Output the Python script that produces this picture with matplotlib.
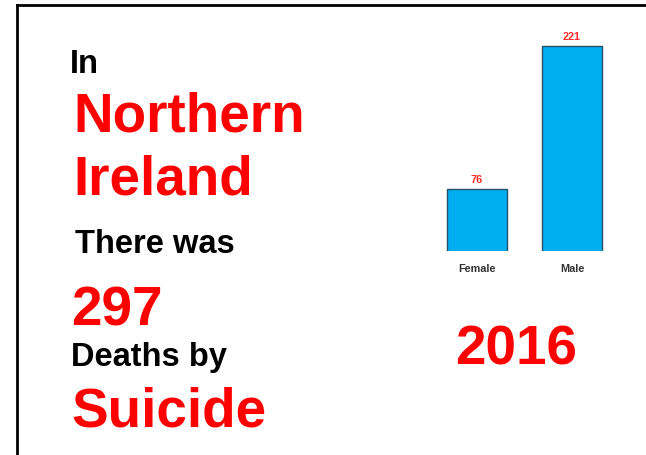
import matplotlib
matplotlib.use('Agg')
import matplotlib.pyplot as plt
from matplotlib.lines import Line2D

plt.rcParams['font.family'] = ['Liberation Sans', 'DejaVu Sans']

genders = ['Female', 'Male']
deaths = [76, 221]
total = 297
year = '2016'
place = ['Northern', 'Ireland']

W, H = 646, 456
fig = plt.figure(figsize=(W / 100, H / 100), dpi=100)
fig.patch.set_facecolor('white')

def fx(px):
    return px / W

def fy(py):
    return 1 - py / H

# frame (only top and left edge show)
fig.add_artist(Line2D([fx(17), 1.0], [fy(6), fy(6)], color='black', lw=2))
fig.add_artist(Line2D([fx(17), fx(17)], [fy(6), 0.0], color='black', lw=2))

red = '#ff0000'
big = 39.5
small = 23.5
fig.text(fx(70), fy(73), 'In', fontsize=small, fontweight='bold', color='black')
fig.text(fx(73), fy(132), place[0], fontsize=big, fontweight='bold', color=red)
fig.text(fx(73), fy(195), place[1], fontsize=big, fontweight='bold', color=red)
fig.text(fx(75), fy(253), 'There was', fontsize=small, fontweight='bold', color='black')
fig.text(fx(71), fy(325), str(total), fontsize=big, fontweight='bold', color=red)
fig.text(fx(71), fy(366), 'Deaths by', fontsize=small, fontweight='bold', color='black')
fig.text(fx(71), fy(427), 'Suicide', fontsize=big, fontweight='bold', color=red)
fig.text(fx(455), fy(365), year, fontsize=big, fontweight='bold', color=red)

# small bar chart
ax = fig.add_axes([fx(430), fy(252), fx(190), (252 - 30) / H])
x = list(range(len(genders)))
bars = ax.bar(x, deaths, width=0.63, bottom=0, color='#00aeef',
              edgecolor='#24506a', linewidth=1)
ax.set_xlim(-0.495, 1.505)
ax.set_ylim(13, 238.2)
for b, v in zip(bars, deaths):
    ax.annotate(str(v), (b.get_x() + b.get_width() / 2, v), xytext=(0, 3.5),
                textcoords='offset points', ha='center', va='bottom',
                fontsize=7.8, fontweight='bold', color='#ff2a2a')
ax.set_xticks(x)
ax.set_xticklabels(genders, fontsize=7.8, fontweight='bold', color='#333333')
ax.tick_params(axis='x', length=0, pad=9)
ax.get_xticklabels()[1].set_x(1.05)
ax.set_yticks([])
for s in ax.spines.values():
    s.set_visible(False)
ax.patch.set_alpha(0)

fig.savefig('out.png', dpi=100, facecolor='white')
